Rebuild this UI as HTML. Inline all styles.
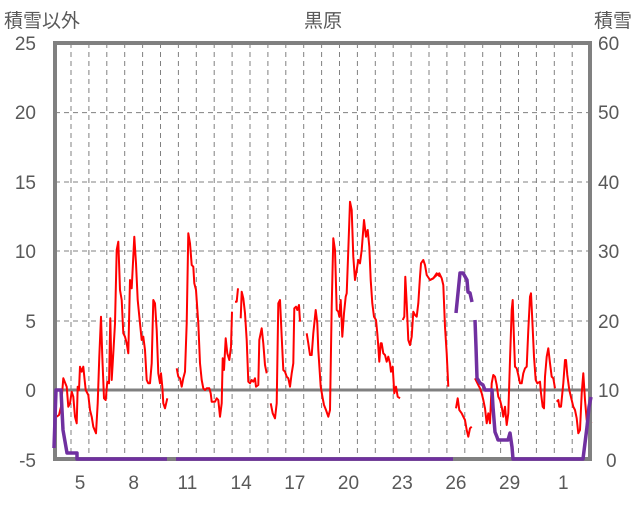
<!DOCTYPE html>
<html><head><meta charset="utf-8"><style>
body{margin:0;background:#fff;}
svg text{font-family:"Liberation Sans","Noto Sans CJK JP",sans-serif;fill:#595959;}
</style></head><body>
<svg id="s" width="636" height="501" viewBox="0 0 636 501" xmlns="http://www.w3.org/2000/svg">
<g id="grid"></g>
<line x1="53" y1="390" x2="591" y2="390" stroke="#808080" stroke-width="3"/>
<g id="red" fill="none" stroke="#ff0000" stroke-width="2" stroke-linejoin="round"></g>
<rect x="55" y="43" width="535" height="416" fill="none" stroke="#808080" stroke-width="4"/>
<g id="pur" fill="none" stroke="#7030a0" stroke-width="3.5" stroke-linejoin="round"></g>
<text x="323" y="27" font-size="19" text-anchor="middle">黒原</text>
<text x="4" y="27" font-size="19">積雪以外</text>
<text x="632" y="27" font-size="19" text-anchor="end">積雪</text>
<g font-size="19" text-anchor="end">
<text x="36" y="50">25</text><text x="36" y="119">20</text><text x="36" y="189">15</text>
<text x="36" y="258">10</text><text x="36" y="328">5</text><text x="36" y="397">0</text><text x="36" y="467">-5</text>
</g>
<g font-size="19" text-anchor="start">
<text x="598" y="50">60</text><text x="598" y="119">50</text><text x="598" y="189">40</text>
<text x="598" y="258">30</text><text x="598" y="328">20</text><text x="598" y="397">10</text><text x="606" y="467">0</text>
</g>
<g font-size="19" text-anchor="middle" id="xl"></g>
</svg>
<script>
var NS="http://www.w3.org/2000/svg";
function el(p,t,a){var e=document.createElementNS(NS,t);for(var k in a)e.setAttribute(k,a[k]);p.appendChild(e);return e;}
var g=document.getElementById('grid');
[112.6,182,251,321].forEach(function(y){el(g,'line',{x1:55,x2:590,y1:y,y2:y,stroke:'#808080','stroke-width':1,'stroke-dasharray':'5,4'});});
for(var k=0;k<29;k++){var x=71+17.9*k;el(g,'line',{x1:x,x2:x,y1:43,y2:459,stroke:'#808080','stroke-width':1,'stroke-dasharray':'5,4'});}
var xl=document.getElementById('xl');
['5','8','11','14','17','20','23','26','29','1'].forEach(function(t,i){var e=el(xl,'text',{x:80+53.7*i,y:489});e.textContent=t;});
function conv(arr,x0,y0){var o=[];for(var i=0;i<arr.length;i+=2)o.push((x0+arr[i]/3).toFixed(1)+','+(y0+arr[i+1]/3).toFixed(1));return o.join(' ');}
var R=document.getElementById('red');
function rl(arr,x0,y0){el(R,'polyline',{points:conv(arr,x0,y0)});}
rl([5,680,12,675,18,650,25,565,35,590,40,650,45,640,50,605,55,620,60,680,65,700,68,590,72,600,75,530,80,545,85,530,88,560,92,600,100,615,105,660,110,680,115,710,123,730,128,640,133,500,138,380,142,500,147,625,152,630,157,575,162,580,166,385,170,570,175,490,180,400,185,180,190,155,195,300,200,330,205,430,210,440,215,460,220,490,225,270,230,295,238,140,243,220,248,330,255,400,260,450,265,440,270,480,275,570,280,580,285,580,290,520,295,330,300,340,305,420,310,550,315,580,318,550,322,590,325,640,330,655,337,625],55,190);
rl([20,535,25,560,30,565,35,590,40,565,45,545,50,400,55,130,60,160,65,225,70,230,73,280,78,300,85,400,90,520,95,570,100,595,105,600,110,595,118,595,122,610,125,635,135,635,140,625,145,630,150,680,155,640,158,505,162,540,167,445,172,490,178,510,183,470,186,365],170,190);
rl([195,335,200,335,204,295],170,190);
rl([212,385,215,305,220,325,225,370,230,450,235,575,240,580,245,570,250,575,255,565,258,590,265,585,268,450,275,415,280,460,285,525,290,550],170,190);
rl([302,640,308,670,315,685,320,640,325,340,330,330,335,440,340,540,345,545,350,560,355,565,360,590,365,550,370,520,373,355,378,350,382,360,387,345,390,395],170,190);
rl([20,430,25,460,30,495,35,495,40,430,47,360,52,400,55,480,62,590,68,625,72,645,78,660,85,680,90,660,95,350,100,145,105,180,110,360,115,365,118,380,122,330,127,440,132,370,137,320,140,310,145,180,150,35,155,60,160,200,165,270,170,240,175,210,180,220,185,180,192,90,198,140,203,120,208,170,212,270,217,340,222,380,228,390,232,430,235,470,238,515,242,460,245,460,250,490,255,495,260,515,265,500,270,520,273,545,278,530,283,610,288,590,293,620,300,625],300,190);
rl([308,390,313,380,316,260,320,340,325,450,330,465,335,440,340,365,345,375,350,380,355,340,360,260,363,220,370,210,375,225,380,255,390,270,400,265,410,250,420,260],300,190);
rl([0,60,10,55,20,45,28,40,35,55,40,75,45,200,50,280,55,380],430,260);
rl([78,445,83,415,88,450,95,460,100,470,105,480,110,510,115,530,120,505,125,500],430,260);
rl([135,355,145,375,150,385,155,400,160,420,165,445,170,490,175,460,180,490,185,370,190,345,195,350,200,375,205,410,210,420,215,440,220,470,225,440,230,495,235,460,240,300,245,150,248,120,252,240,255,320,260,325,265,345,270,370,275,370,280,340,285,325,290,320,295,210,300,110,303,100,307,180,312,290,317,360,322,370,330,365,333,400,338,440,342,445,345,350,350,290,355,265,360,310,365,350,370,355,375,385],430,260);
rl([380,425,385,420,388,440,393,440,400,370,405,300,408,300,412,345,418,390,425,420,430,440,435,450,440,475,445,520,450,510,455,400,460,340,465,420,470,480,475,490,480,490,485,485],430,260);
var P=document.getElementById('pur');
function pl(pts){el(P,'polyline',{points:pts});}
pl('54,448 56,390 61,390 63,430 67,453 77,453 77,459 167,459');
pl('176,459 453,459');
pl('456,313 458,293 460,273 463,273 467,280 468,292 470,293 472,302');
pl('475,320 476,347 477,378 480,383 483,385 485,390 492,390 493,407 495,432 497,437 498,440 508,440 510,433 512,447 513,459 583,459 587,427 589,407 591,397');
</script>
</body></html>
